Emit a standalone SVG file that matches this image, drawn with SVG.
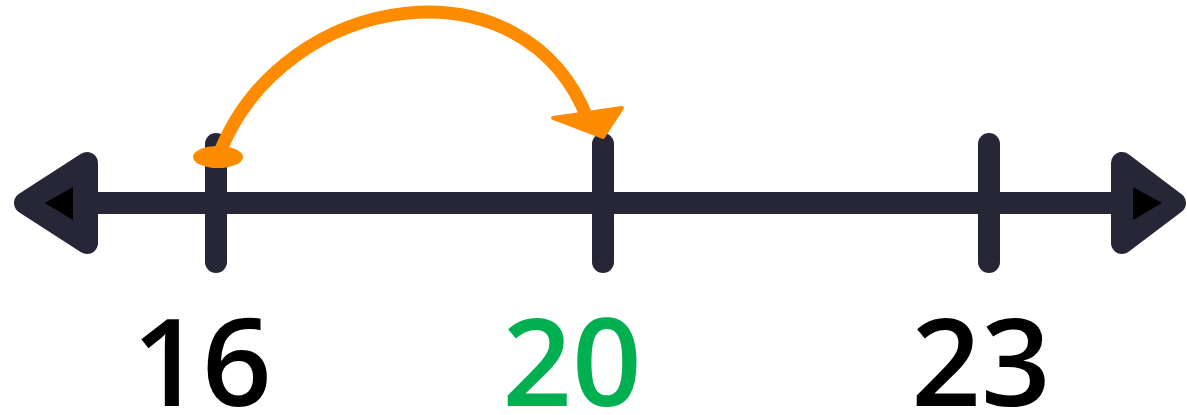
<svg xmlns="http://www.w3.org/2000/svg" width="1187" height="415" viewBox="0 0 1187 415">
<style>
.ln{stroke:#262637;stroke-linecap:round;stroke-linejoin:round;fill:none}
.head{fill:#262637;stroke:#262637;stroke-width:22;stroke-linejoin:round}
.lbl{font-family:"Open Sans","Liberation Sans",sans-serif;font-weight:600;font-size:122px;text-anchor:middle}
</style>
<rect width="1187" height="415" fill="#fff"/>
<g id="numberline">
<line class="ln" x1="70" y1="203" x2="1120" y2="203" stroke-width="22"/>
<polygon class="head" points="25,203 87,163 87,243"/>
<polygon points="45,203 73,187 73,220" fill="#000"/>
<polygon class="head" points="1175,203 1122,163 1122,243"/>
<polygon points="1162,203 1133,187 1133,220" fill="#000"/>
</g>
<g id="tick16"><line class="ln" x1="216" y1="144" x2="216" y2="262" stroke-width="22"/></g>
<g id="tick20"><line class="ln" x1="603" y1="144" x2="603" y2="262" stroke-width="22"/></g>
<g id="tick23"><line class="ln" x1="989" y1="144" x2="989" y2="262" stroke-width="22"/></g>
<g id="connectors">
<ellipse cx="218" cy="157" rx="25" ry="11" fill="#FF8C00"/>
<path d="M 220 152 C 285 -10, 525 -45, 588 120" fill="none" stroke="#FF8C00" stroke-width="13"/>
<polygon points="553,118 622,108 603,137" fill="#FF8C00" stroke="#FF8C00" stroke-width="4" stroke-linejoin="round"/>
</g>
<g id="label16"><text class="lbl" x="202" y="406" fill="#000">16</text></g>
<g id="label20"><text class="lbl" x="572" y="406" fill="#00B050">20</text></g>
<g id="label23"><text class="lbl" x="981" y="406" fill="#000">23</text></g>
</svg>
